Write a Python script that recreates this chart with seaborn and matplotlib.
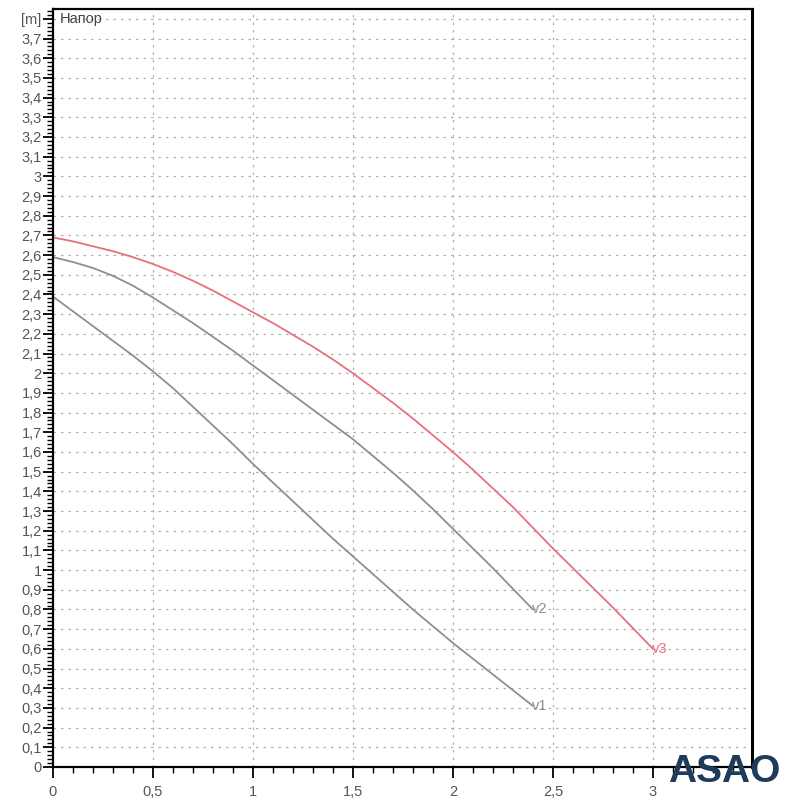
import numpy as np
import pandas as pd
import matplotlib.pyplot as plt
import seaborn as sns
from matplotlib.ticker import MultipleLocator, FixedLocator

# --------------------------
# Data (flow in m3/h, head in m)
# --------------------------
flow_v1 = [0, 0.1, 0.2, 0.3, 0.4, 0.5, 0.6, 0.7, 0.8, 0.9, 1.0, 1.1, 1.2,
           1.3, 1.4, 1.5, 1.6, 1.7, 1.8, 1.9, 2.0, 2.1, 2.2, 2.3, 2.4]
head_v1 = [2.39, 2.315, 2.24, 2.165, 2.09, 2.01, 1.925, 1.83, 1.735, 1.64, 1.54,
           1.445, 1.35, 1.255, 1.16, 1.07, 0.98, 0.89, 0.80, 0.715, 0.63, 0.55,
           0.47, 0.39, 0.31]

flow_v2 = [0, 0.1, 0.2, 0.3, 0.4, 0.5, 0.6, 0.7, 0.8, 0.9, 1.0, 1.1, 1.2,
           1.3, 1.4, 1.5, 1.6, 1.7, 1.8, 1.9, 2.0, 2.1, 2.2, 2.3, 2.4]
head_v2 = [2.59, 2.565, 2.535, 2.495, 2.445, 2.385, 2.32, 2.255, 2.185, 2.115, 2.04,
           1.965, 1.89, 1.815, 1.74, 1.665, 1.58, 1.495, 1.405, 1.31, 1.21, 1.11,
           1.01, 0.905, 0.80]

flow_v3 = [0, 0.1, 0.2, 0.3, 0.4, 0.5, 0.6, 0.7, 0.8, 0.9, 1.0, 1.1, 1.2, 1.3,
           1.4, 1.5, 1.6, 1.7, 1.8, 1.9, 2.0, 2.1, 2.2, 2.3, 2.4, 2.5, 2.6, 2.7,
           2.8, 2.9, 3.0]
head_v3 = [2.69, 2.67, 2.645, 2.62, 2.59, 2.555, 2.515, 2.47, 2.42, 2.365, 2.31,
           2.255, 2.195, 2.135, 2.07, 2.0, 1.925, 1.85, 1.77, 1.685, 1.60, 1.51,
           1.415, 1.32, 1.215, 1.11, 1.01, 0.91, 0.81, 0.705, 0.60]

curve_names = ["v1", "v2", "v3"]
curve_colors = {"v1": "#8f8f8f", "v2": "#8f8f8f", "v3": "#e8707c"}

x_ticks = [0, 0.5, 1, 1.5, 2, 2.5, 3, 3.5]
x_labels = ["0", "0,5", "1", "1,5", "2", "2,5", "3", "[m³/h]"]
y_ticks = [round(i * 0.1, 1) for i in range(39)]
y_labels = [(str(int(v)) if v == int(v) else f"{v:.1f}".replace(".", ",")) for v in y_ticks]
y_labels[-1] = "[m]"

df = pd.concat([
    pd.DataFrame({"flow": flow_v1, "head": head_v1, "curve": "v1"}),
    pd.DataFrame({"flow": flow_v2, "head": head_v2, "curve": "v2"}),
    pd.DataFrame({"flow": flow_v3, "head": head_v3, "curve": "v3"}),
])

# --------------------------
# Plot
# --------------------------
sns.set_style("white")
plt.rcParams["font.family"] = ["Liberation Sans", "DejaVu Sans"]

fig = plt.figure(figsize=(8, 8), dpi=100)
ax = fig.add_axes([0.066, 0.04125, 0.874, 0.9475])

sns.lineplot(data=df, x="flow", y="head", hue="curve", palette=curve_colors,
             sort=False, estimator=None, linewidth=1.3, legend=False, ax=ax)

ax.set_xlim(0, 3.495)
ax.set_ylim(0, 3.85)

ax.xaxis.set_major_locator(FixedLocator(x_ticks))
ax.set_xticklabels(x_labels)
ax.xaxis.set_minor_locator(MultipleLocator(0.1))
ax.yaxis.set_major_locator(FixedLocator(y_ticks))
ax.set_yticklabels(y_labels)
ax.yaxis.set_minor_locator(MultipleLocator(0.02))

ax.tick_params(axis="both", which="both", bottom=True, left=True, top=False, right=False)
ax.tick_params(axis="both", which="major", direction="out", length=7, width=1.3,
               color="black", labelsize=10.5, labelcolor="#555555", pad=1)
ax.tick_params(axis="both", which="minor", direction="out", length=4, width=1.0,
               color="black")
ax.tick_params(axis="x", which="major", length=8, pad=5)
ax.set_xlabel("")
ax.set_ylabel("")

for s in ax.spines.values():
    s.set_visible(True)
    s.set_color("black")
    s.set_linewidth(1.6)
ax.spines["right"].set_linewidth(2.2)

ax.grid(True, axis="y", which="major", color="#b0b0b0", linestyle=(0, (2, 4)), linewidth=0.9)
ax.xaxis.grid(False)
for xv in x_ticks[1:-1]:
    ax.axvline(xv, color="#b0b0b0", linestyle=(0, (2, 4)), linewidth=0.9, zorder=0)

ax.text(0.035, 3.8, "Напор", fontsize=10.5, color="#444444", va="center", ha="left")

ends = {"v1": (flow_v1[-1], head_v1[-1]), "v2": (flow_v2[-1], head_v2[-1]),
        "v3": (flow_v3[-1], head_v3[-1])}
for name in curve_names:
    xe, ye = ends[name]
    ax.text(xe - 0.005, ye, name, color=curve_colors[name], fontsize=10.5,
            va="center", ha="left")

# watermark logo text
fig.text(0.835, 0.013, "ASAO", fontsize=28, fontweight="bold", color="#1f3b5c",
         ha="left", va="bottom")

plt.savefig("out.png", dpi=100)
plt.close()
